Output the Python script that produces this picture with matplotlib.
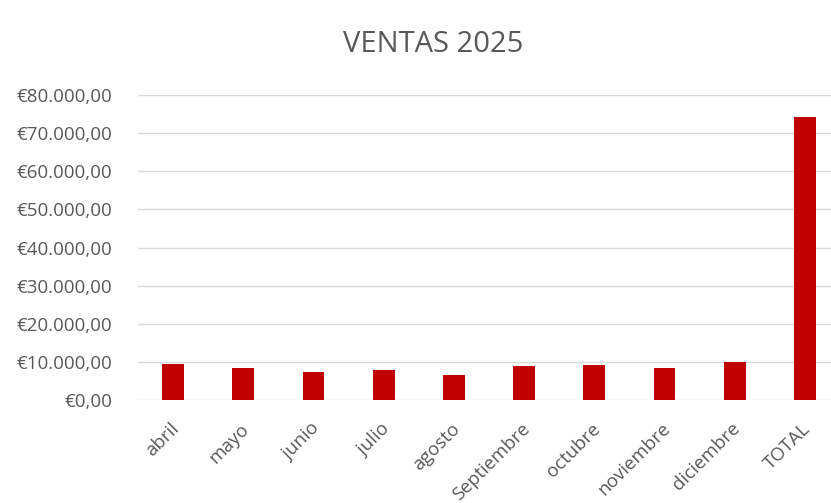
import matplotlib
matplotlib.use("Agg")
import matplotlib.pyplot as plt
from matplotlib.ticker import FuncFormatter
from matplotlib.transforms import ScaledTranslation

# Datos
meses = ["abril", "mayo", "junio", "julio", "agosto", "Septiembre",
         "octubre", "noviembre", "diciembre", "TOTAL"]
ventas = [9300, 8260, 7290, 7740, 6580, 8870, 9130, 8260, 9920, 74430]
y_ticks = [0, 10000, 20000, 30000, 40000, 50000, 60000, 70000, 80000]

GREY = "#595959"
plt.rcParams['font.family'] = ['Open Sans', 'DejaVu Sans']


def euro(v, pos=None):
    s = f"{v:,.2f}"
    s = s.replace(",", "X").replace(".", ",").replace("X", ".")
    return "€" + s


fig = plt.figure(figsize=(8.31, 5.03), dpi=100)
ax = fig.add_axes([0.166, 0.2054, 0.834, 0.6051])

x = list(range(len(meses)))
ax.bar(x, ventas, width=0.31, color="#C00000", zorder=3)

ax.set_ylim(0, 80000)
ax.set_xlim(-0.5, 9.37)
ax.set_yticks(y_ticks)
ax.yaxis.set_major_formatter(FuncFormatter(euro))
ax.grid(axis="y", color="#d9d9d9", linewidth=1.0, zorder=0)
ax.set_xticks(x)
ax.set_xticklabels(meses, rotation=45, ha="right", va="center",
                   rotation_mode="anchor", fontsize=13.5)

for s in ax.spines.values():
    s.set_visible(False)
ax.tick_params(axis="both", length=0, colors=GREY)
ax.tick_params(axis="y", pad=18.5, labelsize=13.5)
ax.tick_params(axis="x", pad=19)

# small shift to the right, as in the original
shift = ScaledTranslation(3 / 100, 0, fig.dpi_scale_trans)
for lbl in ax.get_xticklabels():
    lbl.set_transform(lbl.get_transform() + shift)

fig.text(0.5207, 0.912, "VENTAS 2025", ha="center", va="center",
         fontsize=21, color=GREY)

fig.savefig("out.png", dpi=100)
